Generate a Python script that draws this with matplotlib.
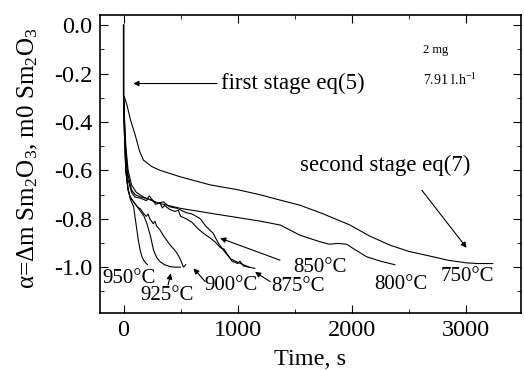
import matplotlib
matplotlib.use("Agg")
import matplotlib.pyplot as plt
from matplotlib.ticker import MultipleLocator

plt.rcParams['font.family'] = ['Liberation Serif', 'DejaVu Serif']
plt.rcParams['mathtext.fontset'] = 'custom'
plt.rcParams['mathtext.rm'] = 'Liberation Serif'
plt.rcParams['mathtext.it'] = 'Liberation Serif:italic'

# curves: time (s) and alpha
t750 = [0, 0, 10, 30, 60, 103, 140, 175, 250, 321, 500, 759, 1000, 1190, 1373, 1546,
        1750, 1984, 2150, 2334, 2500, 2710, 2850, 3000, 3100, 3235]
a750 = [0, -0.29, -0.30, -0.33, -0.39, -0.455, -0.52, -0.558, -0.585, -0.60, -0.627, -0.66,
        -0.68, -0.70, -0.723, -0.744, -0.78, -0.826, -0.87, -0.909, -0.935, -0.957, -0.972,
        -0.982, -0.985, -0.985]

t800 = [0, 0, 8, 20, 40, 70, 110, 175, 300, 500, 759, 1000, 1200, 1373, 1546, 1721,
        1800, 1880, 1954, 2012, 2129, 2250, 2377]
a800 = [0, -0.29, -0.38, -0.50, -0.60, -0.66, -0.69, -0.71, -0.735, -0.757, -0.777, -0.795,
        -0.81, -0.826, -0.868, -0.895, -0.905, -0.902, -0.905, -0.923, -0.957, -0.975, -0.99]

t850 = [0, 0, 8, 20, 40, 70, 100, 150, 232, 300, 350, 400, 470, 550, 600, 673, 720, 785,
        830, 875, 936, 1000, 1050, 1100]
a850 = [0, -0.29, -0.40, -0.52, -0.62, -0.68, -0.70, -0.71, -0.72, -0.735, -0.73, -0.75,
        -0.757, -0.775, -0.78, -0.80, -0.83, -0.86, -0.90, -0.93, -0.965, -0.98, -0.99, -1.0]

t875 = [0, 0, 8, 20, 40, 70, 100, 150, 200, 225, 250, 280, 320, 340, 360, 400, 450, 480,
        500, 550, 600, 650, 700, 760, 800, 850, 880, 900, 950, 1000, 1020, 1050, 1100, 1150]
a875 = [0, -0.29, -0.42, -0.55, -0.64, -0.69, -0.71, -0.715, -0.725, -0.705, -0.72, -0.74,
        -0.735, -0.755, -0.745, -0.76, -0.77, -0.765, -0.79, -0.80, -0.815, -0.84, -0.86,
        -0.88, -0.895, -0.92, -0.925, -0.94, -0.975, -0.985, -0.975, -0.995, -1.0, -1.005]

t900 = [0, 0, 8, 20, 40, 58, 88, 120, 150, 175, 200, 215, 230, 260, 275, 290, 321, 350,
        380, 410, 440, 470, 500, 525, 545]
a900 = [0, -0.29, -0.45, -0.60, -0.68, -0.71, -0.73, -0.75, -0.76, -0.778, -0.79, -0.78,
        -0.80, -0.82, -0.81, -0.83, -0.847, -0.87, -0.89, -0.91, -0.925, -0.943, -0.97,
        -1.0, -0.99]

t925 = [0, 0, 8, 20, 40, 58, 88, 120, 150, 180, 205, 235, 263, 290, 321, 360, 411, 450, 498]
a925 = [0, -0.29, -0.45, -0.60, -0.68, -0.71, -0.73, -0.75, -0.77, -0.79, -0.82, -0.87,
        -0.93, -0.96, -0.978, -0.99, -0.998, -1.0, -1.0]

t950 = [0, 0, 8, 20, 40, 60, 88, 100, 117, 130, 146, 160, 175, 190, 210]
a950 = [0, -0.29, -0.45, -0.60, -0.68, -0.72, -0.75, -0.79, -0.847, -0.89, -0.93, -0.955,
        -0.97, -0.98, -0.99]

curves = [(t750, a750), (t800, a800), (t850, a850), (t875, a875),
          (t900, a900), (t925, a925), (t950, a950)]

# temperature labels: text, label position, arrow tail, arrow head (None = no arrow)
labels = [
    ('750°C', (3016, -1.04), None, None),
    ('800°C', (2430, -1.07), None, None),
    ('850°C', (1720, -1.0), (1370, -0.971), (846, -0.88)),
    ('875°C', (1530, -1.08), (1285, -1.06), (1152, -1.02)),
    ('900°C', (944, -1.074), (716, -1.06), (613, -1.005)),
    ('925°C', (385, -1.116), (390, -1.074), (414, -1.026)),
    ('950°C', (45, -1.047), None, None),
]

fig = plt.figure(figsize=(5.24, 3.70), dpi=100)
ax = fig.add_axes([0.190, 0.155, 0.805, 0.805])

for t, a in curves:
    ax.plot(t, a, color='black', lw=0.8)

ax.set_xlim(-210, 3485)
ax.set_ylim(-1.188, 0.043)
ax.xaxis.set_major_locator(MultipleLocator(1000))
ax.xaxis.set_minor_locator(MultipleLocator(500))
ax.yaxis.set_minor_locator(MultipleLocator(0.1))
ax.set_yticks([0.0, -0.2, -0.4, -0.6, -0.8, -1.0])
ax.set_yticklabels(['0.0', '-0.2', '-0.4', '-0.6', '-0.8', '-1.0'])
ax.tick_params(which='both', direction='in', top=True, right=True, labelsize=17.5)
ax.tick_params(which='major', length=6, pad=5)
ax.tick_params(which='minor', length=3)
for s in ax.spines.values():
    s.set_linewidth(1.2)

ax.set_xlabel('Time, s', fontsize=17.5, labelpad=6)
ax.set_ylabel('α=Δm Sm$_2$O$_3$, m0 Sm$_2$O$_3$', fontsize=18)
ax.yaxis.set_label_coords(-0.142, 0.52)

arr = dict(arrowstyle='-|>', color='black', lw=0.8, mutation_scale=8,
           shrinkA=0, shrinkB=0)
ax.annotate('', xy=(85, -0.241), xytext=(820, -0.241), arrowprops=arr)
ax.text(855, -0.241, 'first stage eq(5)', fontsize=16.5, va='center', ha='left')
ax.text(1546, -0.578, 'second stage eq(7)', fontsize=16.5, va='center', ha='left')
ax.annotate('', xy=(3005, -0.92), xytext=(2613, -0.682), arrowprops=arr)

ax.text(2622, -0.103, '2 mg', fontsize=9, va='center', ha='left')
ax.text(2622, -0.225, '7.91 l.h$^{-1}$', fontsize=10, va='center', ha='left')

for txt, pos, tail, head in labels:
    ax.text(pos[0], pos[1], txt, fontsize=15, ha='center', va='center')
    if tail is not None:
        ax.annotate('', xy=head, xytext=tail, arrowprops=arr)

fig.savefig('out.png', dpi=100)
